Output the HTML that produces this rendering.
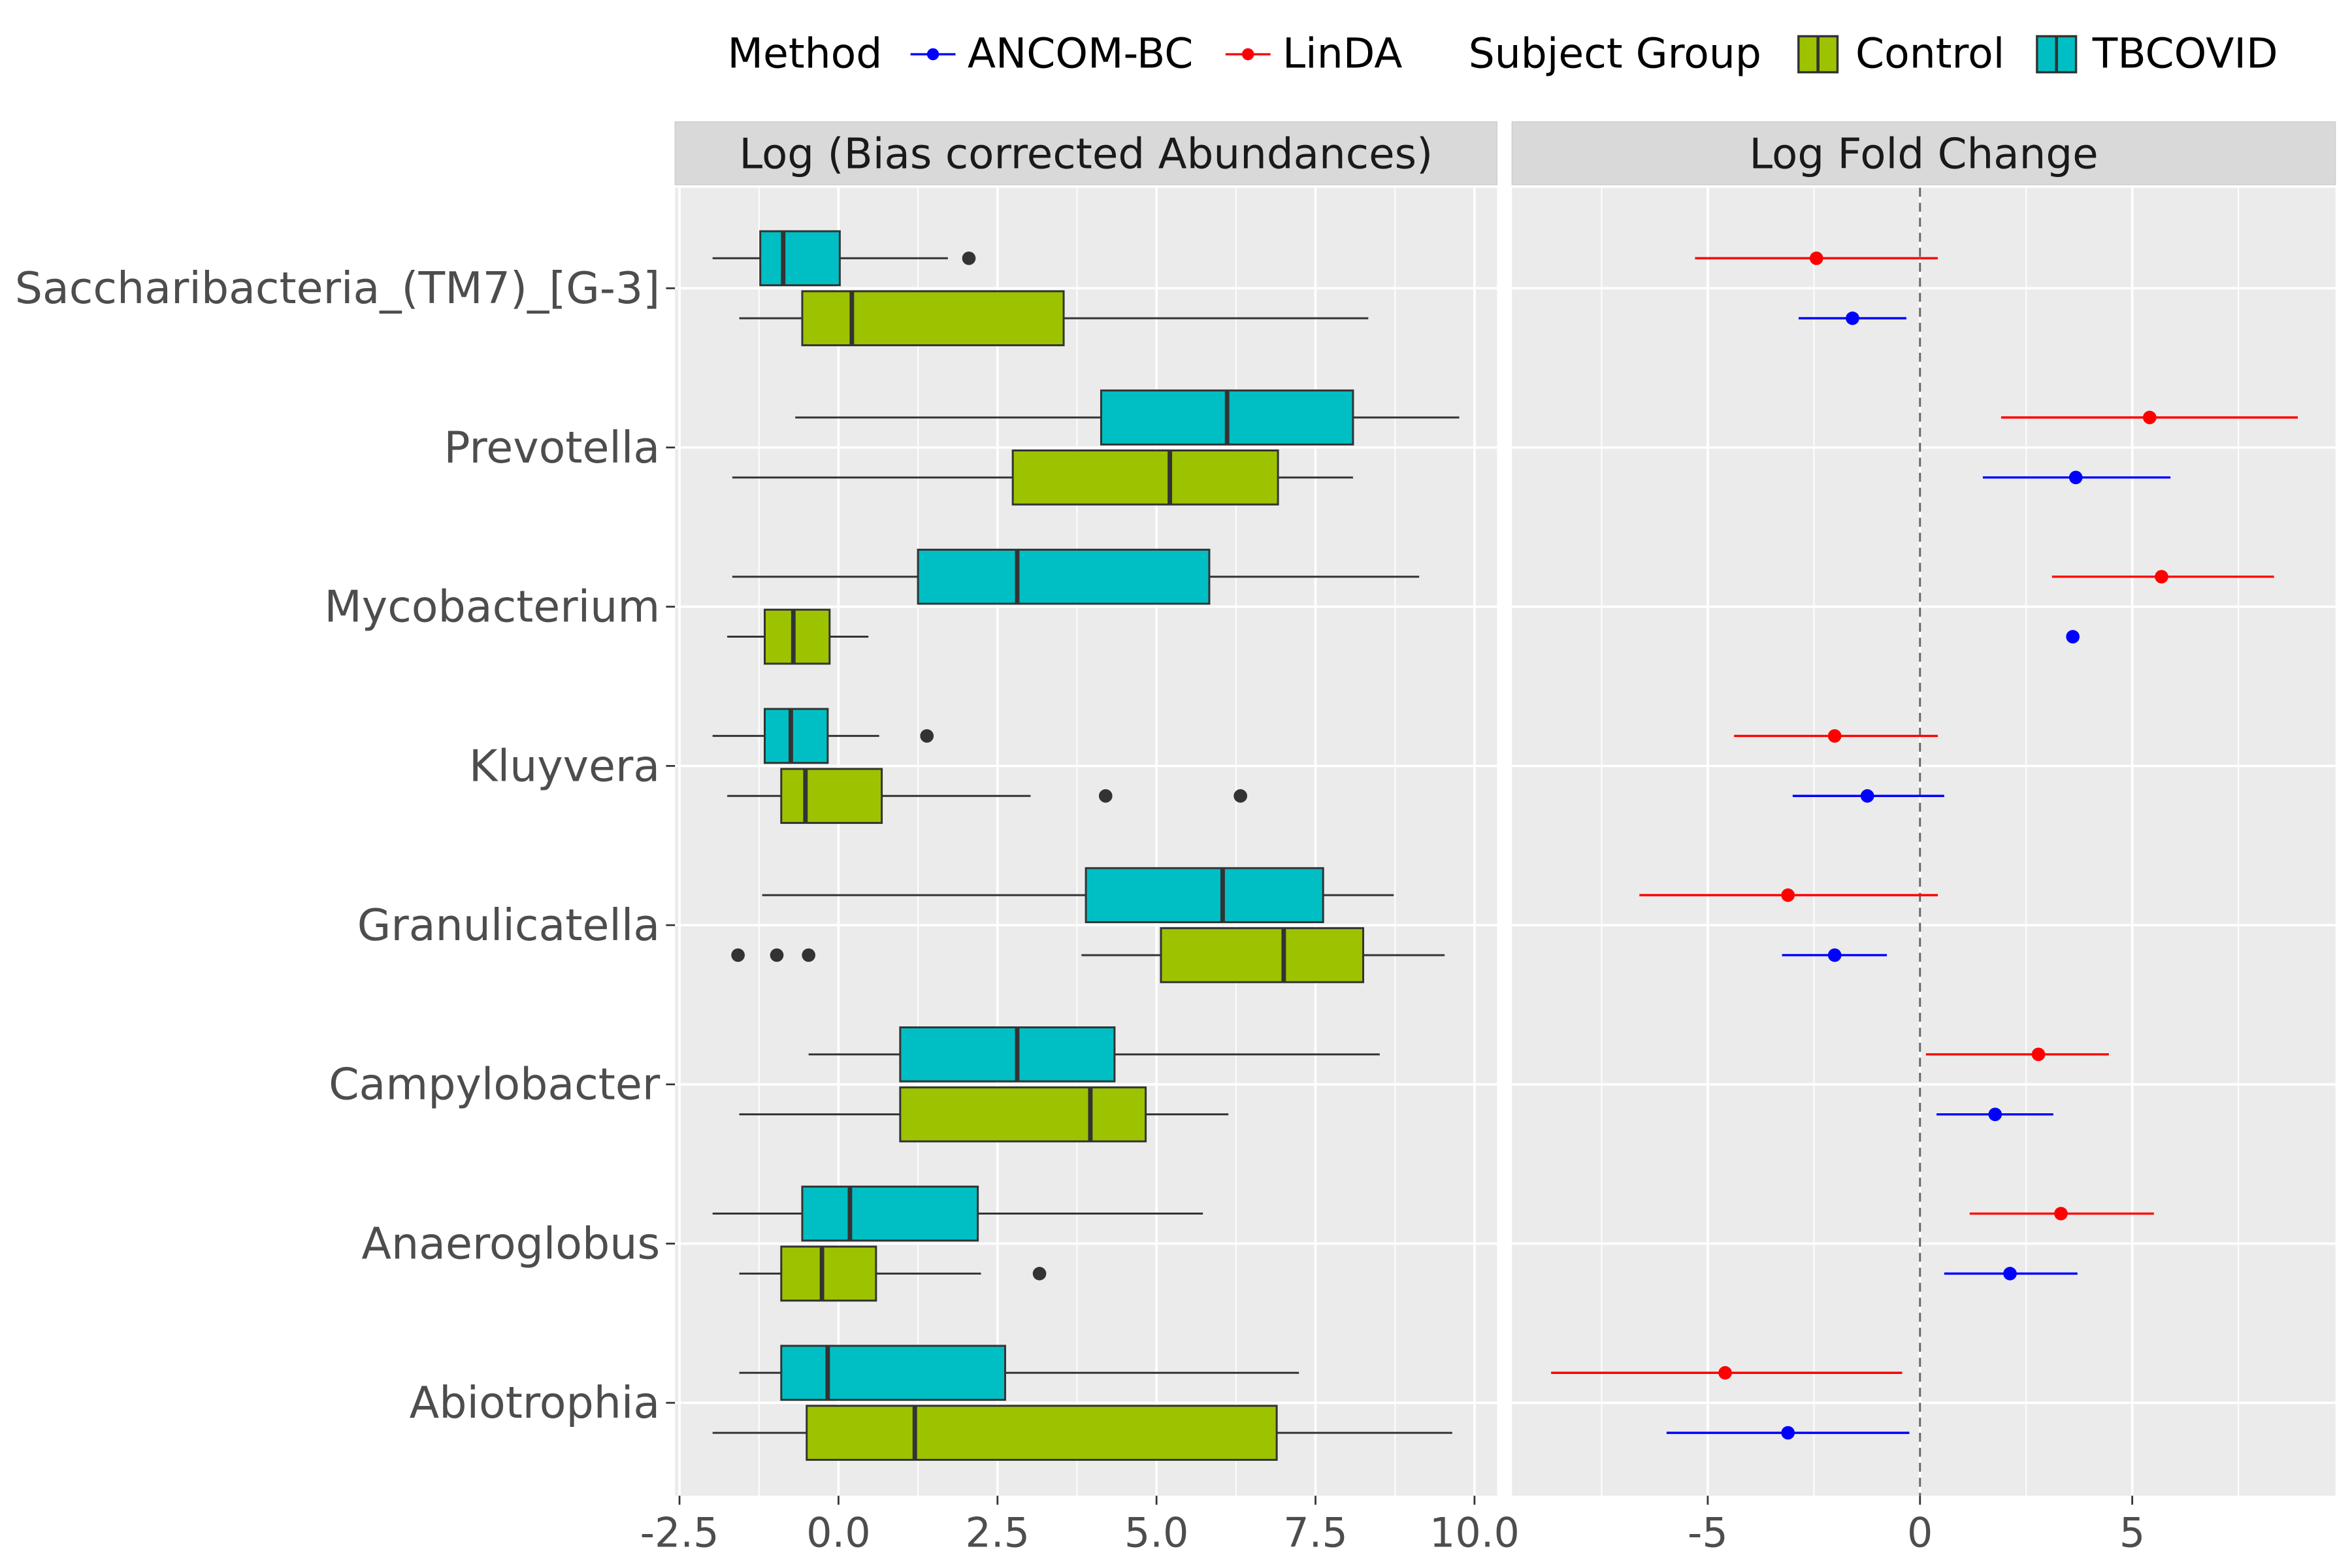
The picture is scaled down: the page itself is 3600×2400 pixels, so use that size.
<!DOCTYPE html>
<html><head><meta charset="utf-8"><style>
html,body{margin:0;padding:0;background:#fff;}
svg{display:block;font-family:"DejaVu Sans","Liberation Sans",sans-serif;}
</style></head><body>
<svg id="chart" width="3600" height="2400" viewBox="0 0 1568 1045" xmlns="http://www.w3.org/2000/svg">
<g id="legend" font-size="27.5" fill="#000">
  <text x="485" y="45">Method</text>
  <g><line x1="607" x2="637" y1="36" y2="36" stroke="#0000ff" stroke-width="1.5"/><circle cx="622" cy="36" r="4" fill="#0000ff"/><text x="645" y="45">ANCOM-BC</text></g>
  <g><line x1="817" x2="847" y1="36" y2="36" stroke="#ff0000" stroke-width="1.5"/><circle cx="832" cy="36" r="4" fill="#ff0000"/><text x="855" y="45">LinDA</text></g>
  <text x="979" y="45">Subject Group</text>
  <g><rect x="1199" y="24" width="26" height="24" fill="#9dc300" stroke="#333" stroke-width="1.5"/><line x1="1212" x2="1212" y1="24" y2="48" stroke="#333" stroke-width="2"/><text x="1237" y="45">Control</text></g>
  <g><rect x="1358" y="24" width="26" height="24" fill="#00bfc4" stroke="#333" stroke-width="1.5"/><line x1="1371" x2="1371" y1="24" y2="48" stroke="#333" stroke-width="2"/><text x="1395" y="45">TBCOVID</text></g>
</g>
<g id="plot"></g>
</svg>
<script>
const categories=["Saccharibacteria_(TM7)_[G-3]","Prevotella","Mycobacterium","Kluyvera","Granulicatella","Campylobacter","Anaeroglobus","Abiotrophia"];
// [lo, q1, median, q3, hi]
const tbcovidBox=[[-1.98,-1.23,-0.87,0.02,1.72],[-0.68,4.13,6.11,8.09,9.76],[-1.67,1.25,2.81,5.83,9.13],[-1.98,-1.16,-0.75,-0.17,0.64],[-1.20,3.89,6.04,7.62,8.73],[-0.47,0.97,2.81,4.34,8.51],[-1.98,-0.57,0.18,2.19,5.73],[-1.56,-0.90,-0.17,2.62,7.24]];
const controlBox=[[-1.56,-0.57,0.21,3.54,8.33],[-1.67,2.74,5.21,6.91,8.09],[-1.75,-1.16,-0.71,-0.14,0.47],[-1.75,-0.90,-0.52,0.68,3.02],[3.82,5.07,7.00,8.25,9.53],[-1.56,0.97,3.96,4.83,6.13],[-1.56,-0.90,-0.26,0.59,2.24],[-1.98,-0.50,1.20,6.89,9.65]];
const tbcovidOut=[[2.05],[],[],[1.39],[],[],[],[]];
const controlOut=[[],[],[],[4.20,6.32],[-1.58,-0.97,-0.47],[],[3.16],[]];
// [lower, upper, estimate]
const lindaLfc=[[-5.30,0.42,-2.44],[1.91,8.90,5.41],[3.11,8.34,5.69],[-4.38,0.42,-2.01],[-6.61,0.42,-3.11],[0.14,4.45,2.79],[1.17,5.51,3.32],[-8.69,-0.42,-4.59]];
const ancomLfc=[[-2.86,-0.32,-1.59],[1.48,5.90,3.67],[3.60,3.60,3.60],[-3.00,0.57,-1.24],[-3.25,-0.78,-2.01],[0.39,3.14,1.77],[0.57,3.71,2.12],[-5.97,-0.25,-3.11]];
const leftTicks=[-2.5,0,2.5,5,7.5,10];
const leftTickLabels=["-2.5","0.0","2.5","5.0","7.5","10.0"];
const rightTicks=[-5,0,5];
const rightTickLabels=["-5","0","5"];

const NS="http://www.w3.org/2000/svg";
const g=document.getElementById('plot');
function el(tag,attrs,parent){const e=document.createElementNS(NS,tag);for(const k in attrs)e.setAttribute(k,attrs[k]);(parent||g).appendChild(e);return e;}
const L={x0:450,x1:998},R={x0:1008,x1:1557},Y0=125,Y1=997;
const xL=v=>453+(v+2.5)*42.4;
const xR=v=>1280+v*28.3;
const yC=i=>192+i*106.15;

const pl=el('rect',{x:L.x0,y:Y0,width:L.x1-L.x0,height:Y1-Y0,fill:'#ebebeb'});


const pr=el('rect',{x:R.x0,y:Y0,width:R.x1-R.x0,height:Y1-Y0,fill:'#ebebeb'});


[[L,"Log (Bias corrected Abundances)","left-strip"],[R,"Log Fold Change","right-strip"]].forEach(([P,t,n])=>{
  const s=el('rect',{x:P.x0,y:81,width:P.x1-P.x0,height:42,fill:'#d9d9d9',stroke:'#c8c8c8','stroke-width':0.5});
  
  
  const tx=el('text',{x:(P.x0+P.x1)/2,y:112,'text-anchor':'middle','font-size':28,fill:'#1a1a1a'});tx.textContent=t;
  
  
});
for(let i=0;i<leftTicks.length-1;i++){const m=(leftTicks[i]+leftTicks[i+1])/2;el('line',{x1:xL(m),x2:xL(m),y1:Y0,y2:Y1,stroke:'#fff','stroke-width':0.8});}
[-7.5,-2.5,2.5,7.5].forEach(m=>el('line',{x1:xR(m),x2:xR(m),y1:Y0,y2:Y1,stroke:'#fff','stroke-width':0.8}));
leftTicks.forEach(v=>el('line',{x1:xL(v),x2:xL(v),y1:Y0,y2:Y1,stroke:'#fff','stroke-width':1.6}));
rightTicks.forEach(v=>el('line',{x1:xR(v),x2:xR(v),y1:Y0,y2:Y1,stroke:'#fff','stroke-width':1.6}));
categories.forEach((c,i)=>{[L,R].forEach(P=>el('line',{x1:P.x0,x2:P.x1,y1:yC(i),y2:yC(i),stroke:'#fff','stroke-width':1.6}));});
categories.forEach((c,i)=>{
  el('line',{x1:444,x2:450,y1:yC(i),y2:yC(i),stroke:'#333','stroke-width':1.2});
  const t=el('text',{x:440,y:yC(i)+10,'text-anchor':'end','font-size':29,fill:'#4d4d4d'});t.textContent=c;
  
  
});
leftTicks.forEach((v,i)=>{el('line',{x1:xL(v),x2:xL(v),y1:Y1,y2:Y1+6,stroke:'#333','stroke-width':1.2});
  const t=el('text',{x:xL(v),y:Y1+34,'text-anchor':'middle','font-size':27,fill:'#4d4d4d'});t.textContent=leftTickLabels[i];
  
  });
rightTicks.forEach((v,i)=>{el('line',{x1:xR(v),x2:xR(v),y1:Y1,y2:Y1+6,stroke:'#333','stroke-width':1.2});
  const t=el('text',{x:xR(v),y:Y1+34,'text-anchor':'middle','font-size':27,fill:'#4d4d4d'});t.textContent=rightTickLabels[i];
  
  });
function box(d,outs,yc,fill,name){
  const grp=el('g',{});
  
  
  const h=36;
  el('line',{x1:xL(d[0]),x2:xL(d[1]),y1:yc,y2:yc,stroke:'#333','stroke-width':1.3},grp);
  el('line',{x1:xL(d[3]),x2:xL(d[4]),y1:yc,y2:yc,stroke:'#333','stroke-width':1.3},grp);
  el('rect',{x:xL(d[1]),y:yc-h/2,width:xL(d[3])-xL(d[1]),height:h,fill:fill,stroke:'#333','stroke-width':1.3},grp);
  el('line',{x1:xL(d[2]),x2:xL(d[2]),y1:yc-h/2,y2:yc+h/2,stroke:'#333','stroke-width':3},grp);
  outs.forEach(o=>el('circle',{cx:xL(o),cy:yc,r:4.5,fill:'#333'},grp));
}
categories.forEach((c,i)=>{
  box(tbcovidBox[i],tbcovidOut[i],yC(i)-20,'#00bfc4','box-tbcovid');
  box(controlBox[i],controlOut[i],yC(i)+20,'#9dc300','box-control');
});
el('line',{x1:xR(0),x2:xR(0),y1:Y0,y2:Y1,stroke:'#666','stroke-width':1.3,'stroke-dasharray':'6,4'});
function pt(d,yc,col,name){
  const grp=el('g',{});
  
  
  el('line',{x1:xR(d[0]),x2:xR(d[1]),y1:yc,y2:yc,stroke:col,'stroke-width':1.5},grp);
  el('circle',{cx:xR(d[2]),cy:yc,r:4.5,fill:col},grp);
}
categories.forEach((c,i)=>{
  pt(lindaLfc[i],yC(i)-20,'#ff0000','point-linda');
  pt(ancomLfc[i],yC(i)+20,'#0000ff','point-ancom');
});
</script>
</body></html>
